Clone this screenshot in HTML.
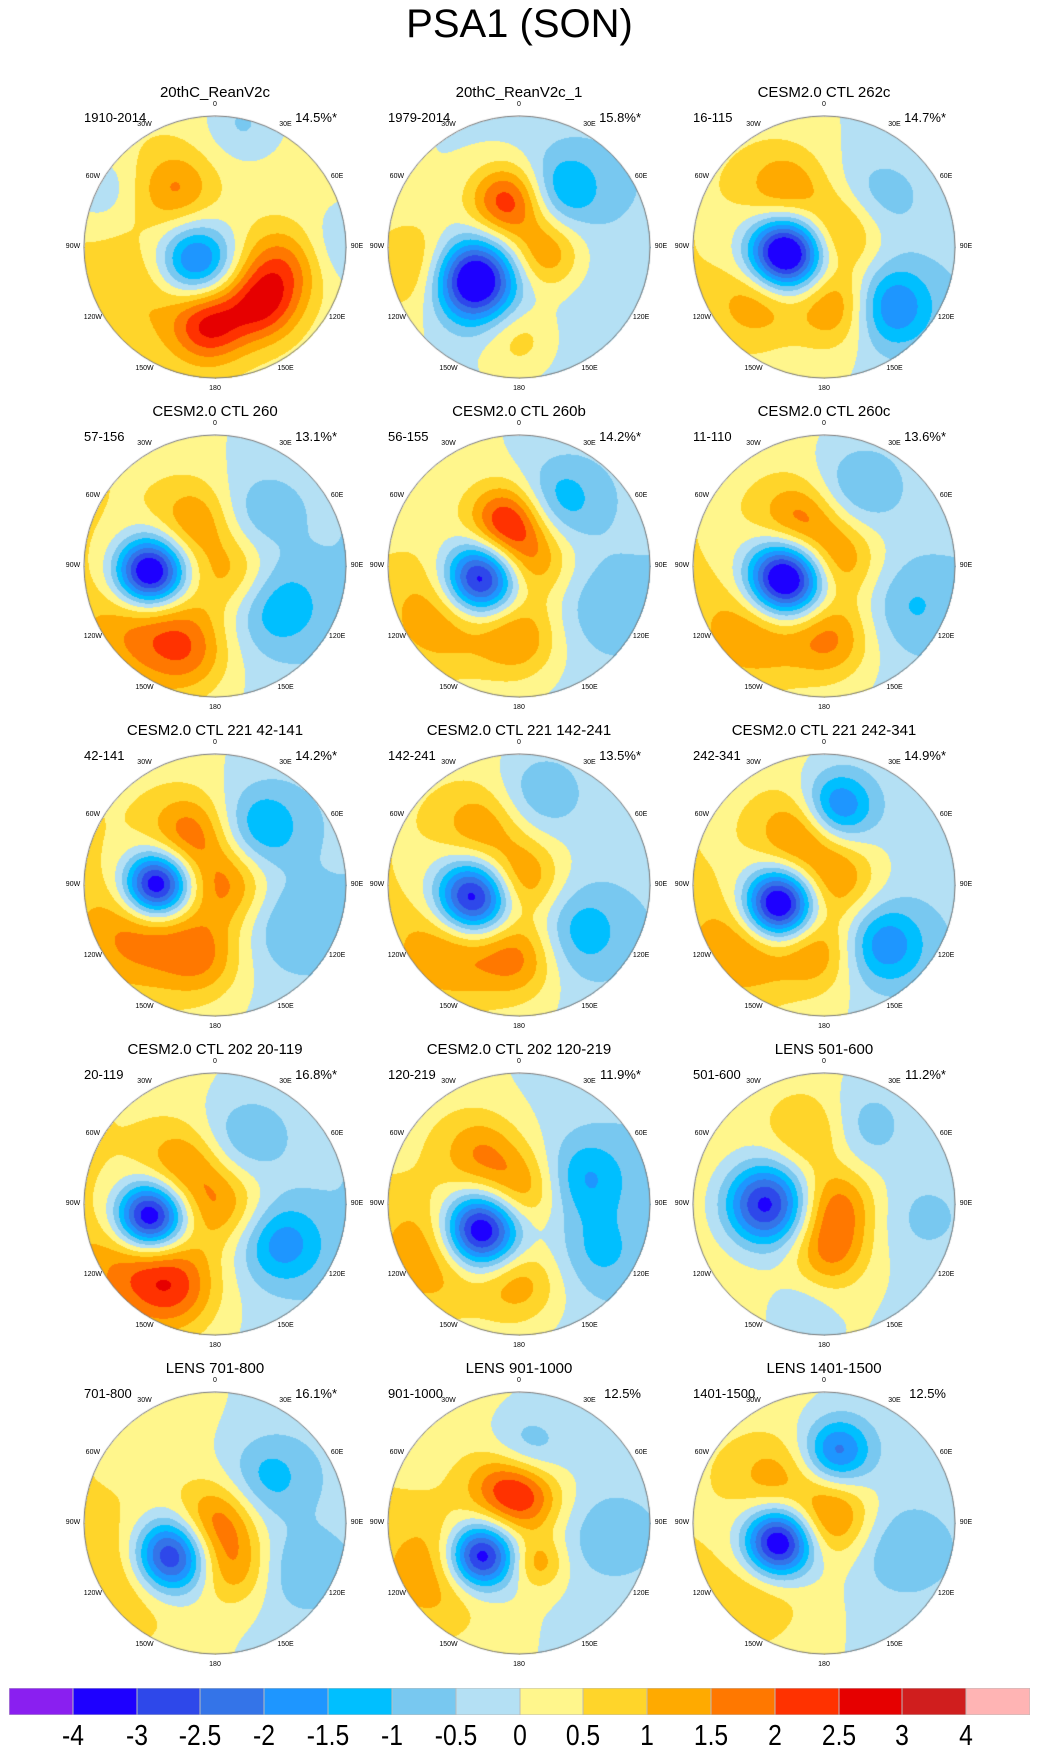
<!DOCTYPE html>
<html><head><meta charset="utf-8">
<style>
html,body{margin:0;padding:0;background:#fff;}
#root{position:relative;width:1039px;height:1758px;overflow:hidden;font-family:"Liberation Sans",sans-serif;}
.t{position:absolute;white-space:nowrap;color:#000;}
canvas{position:absolute;}
</style></head>
<body>
<div id="root">
<div class="t" style="left:0;width:1039px;top:2px;text-align:center;font-size:40px;">PSA1 (SON)</div>
</div>
<script>
const panelTitles=["20thC_ReanV2c","20thC_ReanV2c_1","CESM2.0 CTL 262c","CESM2.0 CTL 260","CESM2.0 CTL 260b","CESM2.0 CTL 260c","CESM2.0 CTL 221 42-141","CESM2.0 CTL 221 142-241","CESM2.0 CTL 221 242-341","CESM2.0 CTL 202 20-119","CESM2.0 CTL 202 120-219","LENS 501-600","LENS 701-800","LENS 901-1000","LENS 1401-1500"];
const periods=["1910-2014","1979-2014","16-115","57-156","56-155","11-110","42-141","142-241","242-341","20-119","120-219","501-600","701-800","901-1000","1401-1500"];
const pcts=["14.5%*","15.8%*","14.7%*","13.1%*","14.2%*","13.6%*","14.2%*","13.5%*","14.9%*","16.8%*","11.9%*","11.2%*","16.1%*","12.5%","12.5%"];
const backgrounds=[0.3,-0.2,0.05,0.05,-0.05,0.05,0.05,0.05,0.05,0.05,-0.05,0.1,0.05,0.05,0.05];
const eastGrad=[-0.2,-0.3,-0.45,-0.55,-0.4,-0.45,-0.5,-0.45,-0.45,-0.55,-0.45,-0.3,-0.45,-0.4,-0.4];
// blobs: [x, y (fraction of radius, +right/+down), amplitude, sigma]
const blobs=[
 [[-0.15,0.1,-2.6,0.2],[-0.05,0.6,2.2,0.2],[0.35,0.45,2.0,0.2],[0.5,0.15,1.6,0.22],[-0.3,-0.45,1.2,0.2],[-0.55,0.35,0.6,0.3],[0.2,-0.95,-0.8,0.2],[-0.9,-0.45,-0.8,0.2],[0.95,0.0,-0.6,0.2]],
 [[-0.35,0.25,-4.2,0.22],[-0.1,-0.35,2.4,0.2],[0.2,0.05,1.6,0.2],[0.35,-0.45,-1.3,0.2],[-0.75,0.15,1.2,0.25],[0.0,0.7,0.9,0.2]],
 [[-0.3,0.05,-4.6,0.2],[0.15,-0.15,1.5,0.22],[-0.3,-0.45,1.3,0.22],[-0.5,0.4,1.2,0.22],[0.1,0.45,1.6,0.22],[0.5,0.45,-2.0,0.22],[0.35,-0.35,-0.9,0.22]],
 [[-0.5,0.05,-4.6,0.19],[-0.5,0.45,1.4,0.3],[-0.15,-0.35,1.3,0.22],[0.15,0.05,1.2,0.22],[-0.2,0.65,1.2,0.22],[0.45,0.3,-1.3,0.25],[0.3,-0.4,-0.8,0.22]],
 [[-0.3,0.1,-4.2,0.2],[-0.1,-0.35,2.4,0.2],[0.1,-0.05,1.5,0.22],[-0.55,0.35,1.4,0.3],[0.0,0.55,1.4,0.22],[0.3,-0.5,-1.2,0.22],[0.6,0.3,-0.6,0.25]],
 [[-0.3,0.1,-4.9,0.21],[-0.2,-0.35,1.6,0.22],[0.1,-0.05,1.5,0.22],[-0.5,0.45,1.4,0.28],[0.05,0.55,1.5,0.22],[0.25,-0.6,-1.0,0.22],[0.65,0.3,-0.8,0.25]],
 [[-0.45,0.0,-4.5,0.18],[-0.55,0.35,1.5,0.3],[-0.2,-0.4,1.6,0.22],[0.1,0.0,1.5,0.22],[-0.1,0.55,1.3,0.22],[0.35,-0.45,-1.4,0.22],[0.55,0.3,-0.8,0.25]],
 [[-0.35,0.1,-4.3,0.21],[0.0,-0.05,1.7,0.22],[-0.3,-0.45,1.2,0.22],[-0.5,0.45,1.5,0.28],[0.0,0.55,1.5,0.22],[0.45,0.35,-1.2,0.25],[0.15,-0.7,-0.9,0.22]],
 [[-0.35,0.15,-4.6,0.19],[-0.2,-0.4,1.5,0.22],[0.1,-0.05,1.4,0.22],[-0.6,0.45,1.3,0.28],[-0.05,0.5,1.3,0.22],[0.1,-0.6,-2.2,0.19],[0.45,0.45,-1.8,0.22]],
 [[-0.5,0.1,-4.6,0.19],[-0.55,0.45,1.6,0.3],[-0.25,-0.3,1.3,0.22],[0.05,0.0,1.3,0.22],[-0.3,0.65,1.3,0.22],[0.5,0.3,-1.6,0.22],[0.2,-0.5,-0.9,0.22]],
 [[-0.3,0.2,-4.6,0.21],[-0.6,0.35,1.5,0.3],[0.0,-0.1,1.5,0.22],[-0.3,-0.4,1.3,0.22],[0.0,0.6,1.3,0.22],[0.5,-0.2,-1.3,0.22],[0.6,0.35,-0.8,0.22]],
 [[-0.45,0.0,-3.4,0.22],[0.1,0.0,1.5,0.2],[0.05,0.35,1.5,0.2],[-0.1,-0.55,1.0,0.22],[0.3,-0.6,-0.8,0.22],[0.75,0.1,-0.5,0.22],[-0.2,0.85,-0.6,0.18]],
 [[-0.35,0.25,-4.2,0.21],[0.0,0.0,1.8,0.22],[-0.55,0.35,1.2,0.3],[0.15,0.35,1.2,0.2],[0.4,-0.35,-1.1,0.22],[0.6,0.35,-0.7,0.22]],
 [[-0.3,0.25,-4.0,0.18],[0.05,-0.2,1.8,0.2],[-0.15,-0.3,1.3,0.2],[-0.6,0.35,1.2,0.3],[0.15,0.3,1.2,0.14],[0.05,-0.55,-1.0,0.2],[0.65,0.1,-0.7,0.22]],
 [[-0.35,0.15,-4.2,0.19],[0.05,-0.05,1.7,0.22],[-0.4,-0.35,1.0,0.22],[-0.5,0.5,0.8,0.28],[0.1,-0.55,-2.2,0.18],[0.55,0.2,-0.8,0.24]]
];
const levels=[-4,-3,-2.5,-2,-1.5,-1,-0.5,0,0.5,1,1.5,2,2.5,3,4];
const colorLabels=["-4","-3","-2.5","-2","-1.5","-1","-0.5","0","0.5","1","1.5","2","2.5","3","4"];
const colors=["#8A1FF0","#1E00FF","#2E48EA","#3474E8","#1E96FF","#00BFFF","#78C8F0","#B4E0F4","#FFF68C","#FFD52A","#FFAA00","#FF7800","#FF3200","#E60000","#D01E1E","#FFB4B4"];
const lonLabels=["0","30E","60E","90E","120E","150E","180","150W","120W","90W","60W","30W"];

const root=document.getElementById('root');
const R=131;
const colX=[215,519,824];
const rowY=[247,566,885,1204,1523];
function lvl(v){let i=0;while(i<levels.length&&v>=levels[i])i++;return i;}
function hex(c){return [parseInt(c.substr(1,2),16),parseInt(c.substr(3,2),16),parseInt(c.substr(5,2),16)];}
const rgb=colors.map(hex);

for(let p=0;p<15;p++){
  const cx=colX[p%3], cy=rowY[Math.floor(p/3)];
  const title=document.createElement('div');
  title.className='t';
  
  
  title.style.cssText=`left:${cx-200}px;width:400px;text-align:center;top:${cy-163}px;font-size:15px;`;
  title.textContent=panelTitles[p];root.appendChild(title);
  const per=document.createElement('div');
  per.className='t';
  
  
  per.style.cssText=`left:${cx-131}px;top:${cy-137}px;font-size:13px;`;
  per.textContent=periods[p];root.appendChild(per);
  const pc=document.createElement('div');
  pc.className='t';
  
  
  pc.style.cssText=`left:${cx+22}px;width:100px;text-align:right;top:${cy-137}px;font-size:13px;`;
  pc.textContent=pcts[p];root.appendChild(pc);

  const cv=document.createElement('canvas');
  
  
  const S=2*R+2;cv.width=S;cv.height=S;
  cv.style.left=(cx-R-1)+'px';cv.style.top=(cy-R-1)+'px';
  const ctx=cv.getContext('2d');
  const img=ctx.createImageData(S,S);
  const B=blobs[p];
  for(let j=0;j<S;j++)for(let i=0;i<S;i++){
    const x=(i-R-1)/R,y=(j-R-1)/R;
    if(x*x+y*y>1)continue;
    let v=backgrounds[p]+eastGrad[p]*x;
    for(const b of B){const dx=x-b[0],dy=y-b[1];v+=b[2]*Math.exp(-(dx*dx+dy*dy)/(2*b[3]*b[3]));}
    const c=rgb[lvl(v)];const k=(j*S+i)*4;
    img.data[k]=c[0];img.data[k+1]=c[1];img.data[k+2]=c[2];img.data[k+3]=255;
  }
  ctx.putImageData(img,0,0);
  ctx.beginPath();ctx.arc(R+1,R+1,R,0,Math.PI*2);ctx.strokeStyle='#777';ctx.lineWidth=1;ctx.stroke();
  root.appendChild(cv);

  for(let k=0;k<12;k++){
    const a=k*30*Math.PI/180;
    const rr=(k%3===0)?R+11:R+10;
    const lx=cx+rr*Math.sin(a), ly=cy-rr*Math.cos(a);
    const l=document.createElement('div');
    l.className='t';
    
    
    l.style.cssText=`left:${lx-20}px;width:40px;text-align:center;top:${ly-5}px;font-size:7px;line-height:10px;`;
    l.textContent=lonLabels[k];root.appendChild(l);
  }
}

// colorbar
const cbL=9,cbR=1030,cbT=1688,cbH=27;
const bw=(cbR-cbL)/colors.length;
for(let i=0;i<colors.length;i++){
  const d=document.createElement('div');
  
  
  d.style.cssText=`position:absolute;left:${cbL+i*bw}px;top:${cbT}px;width:${bw}px;height:${cbH}px;background:${colors[i]};box-shadow:inset 0 0 0 0.5px #bbb;`;
  root.appendChild(d);
}
for(let i=0;i<colorLabels.length;i++){
  const l=document.createElement('div');
  l.className='t';
  
  
  const x=cbL+(i+1)*bw;
  l.style.cssText=`left:${x-40}px;width:80px;text-align:center;top:${cbT+cbH+5}px;font-size:29px;line-height:32px;transform:scaleX(0.85);`;
  l.textContent=colorLabels[i];root.appendChild(l);
}
</script>
</body></html>
